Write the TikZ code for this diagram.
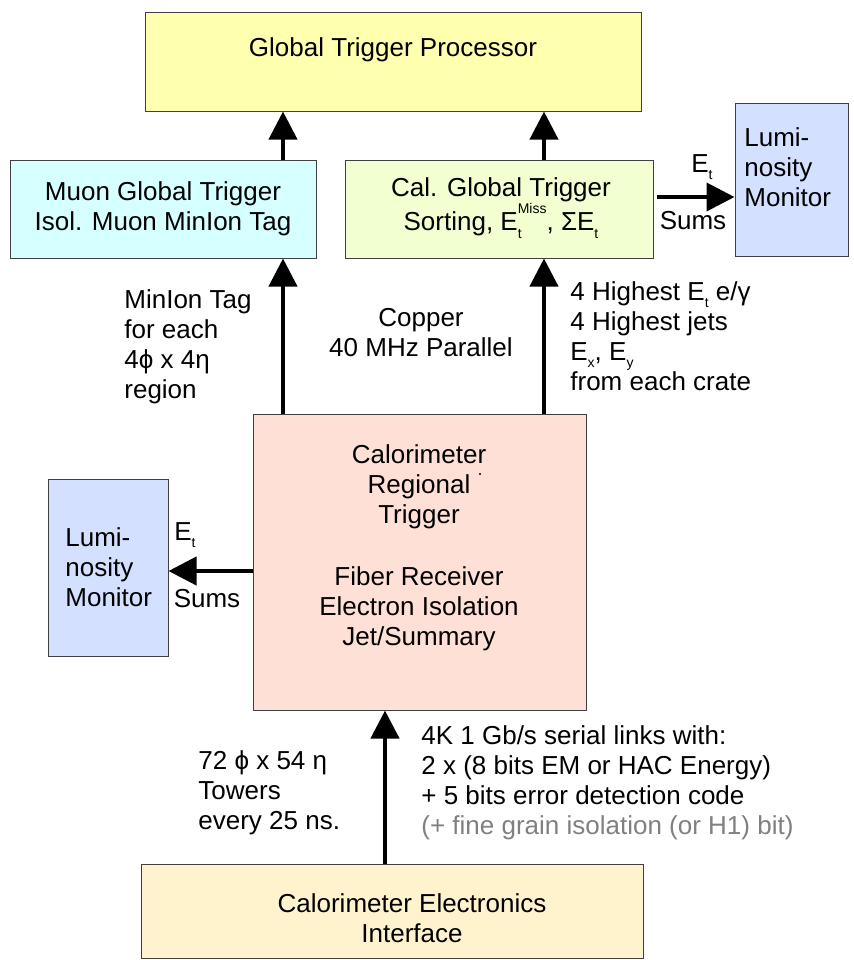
\documentclass[tikz,border=0pt]{standalone}
\usepackage{fontspec}
\setmainfont{Liberation Sans}
\usepackage{tikz}
\usetikzlibrary{arrows.meta,positioning,calc}
\definecolor{gtpyel}{RGB}{255,255,176}
\definecolor{muoncy}{RGB}{214,255,255}
\definecolor{calgrn}{RGB}{242,255,208}
\definecolor{lumblu}{RGB}{212,224,255}
\definecolor{crtpink}{RGB}{255,224,214}
\definecolor{ceicream}{RGB}{255,243,206}
\definecolor{edge}{RGB}{64,64,64}
\definecolor{note}{RGB}{128,128,128}
\newcommand{\lowsub}[1]{\raisebox{-0.55ex}{\fontsize{7}{8}\selectfont #1}}
\newcommand{\Et}{E\lowsub{t}}
\newcommand{\Emiss}{E\raisebox{-0.55ex}{\fontsize{7}{8}\selectfont\rlap{t}}\raisebox{1.25ex}{\fontsize{7}{8}\selectfont Miss}}

\begin{document}
\begin{tikzpicture}[x=0.5pt,y=-0.5pt,
      font=\fontsize{13}{15}\selectfont,
      blk/.style={draw=edge,line width=0.5pt,inner sep=0pt},
      gtpbox/.style={blk,fill=gtpyel,minimum width=248pt,minimum height=49.5pt},
      muonbox/.style={blk,fill=muoncy,minimum width=153pt,minimum height=49pt,align=center},
      calbox/.style={blk,fill=calgrn,minimum width=154pt,minimum height=49pt},
      lumbox/.style={blk,fill=lumblu},
      crtbox/.style={blk,fill=crtpink,minimum width=166.5pt,minimum height=148pt},
      ceibox/.style={blk,fill=ceicream,minimum width=251pt,minimum height=47pt},
      txt/.style={align=center,inner sep=0pt},
      ltxt/.style={align=left,anchor=west,inner sep=0pt},
      ar/.style={-{Triangle[length=14pt,width=14pt]},line width=2pt,color=black}]
      \useasboundingbox (0,0) rectangle (854,960);
      % boxes
      \node[gtpbox] (gtp) at (393,61.5) {};
      \node[txt] (gtptext) at (393,50) {Global Trigger Processor};
      \node[muonbox] (muon) at (163,209) {Muon Global Trigger\\Isol. Muon MinIon Tag};
      \node[calbox] (calg) at (499,209) {};
      \node[txt] (calgtext) at (501,208) {Cal. Global Trigger\\Sorting, \Emiss, Σ\Et};
      \node[lumbox,minimum width=56.5pt,minimum height=76.5pt] (lumr) at (791.5,179.5) {};
      \node[ltxt] (lumrtext) at (744,167) {Lumi-\\nosity\\Monitor};
      \node[crtbox] (crt) at (419.5,562) {};
      \node[txt] (crttext) at (419,548) {Calorimeter\\Regional\\Trigger\\[16pt]Fiber Receiver\\Electron Isolation\\Jet/Summary};
      \node[lumbox,minimum width=60pt,minimum height=88.5pt] (luml) at (108,567.5) {};
      \node[ltxt] (lumltext) at (65,567) {Lumi-\\nosity\\Monitor};
      \node[ceibox] (cei) at (392,911) {};
      \node[txt] (ceitext) at (412,918) {Calorimeter Electronics\\Interface};
      \fill (480,474) circle[radius=0.6pt];
      % arrow columns
      \coordinate (lx) at (283,0); \coordinate (rx) at (544,0); \coordinate (bx) at (385,0);
      \coordinate (ry) at (0,197); \coordinate (ly) at (0,571);
      \draw[ar] (muon.north -| lx) -- (gtp.south -| lx); \draw[ar] (calg.north -| rx) -- (gtp.south -| rx);
      \draw[ar] (crt.north -| lx) -- (muon.south -| lx); \draw[ar] (crt.north -| rx) -- (calg.south -| rx);
      \draw[ar,shorten <=1.5pt] (calg.east |- ry) -- (lumr.west |- ry);
      \draw[ar] (crt.west |- ly) -- (luml.east |- ly);
      \draw[ar] (cei.north -| bx) -- (crt.south -| bx);
      % labels
      \node[txt] (etr) at (702,167) {\Et};
      \node[txt] (sumr) at (693,221) {Sums};
      \node[txt] (etl) at (185,535) {\Et};
      \node[txt] (suml) at (207,599) {Sums};
      \node[ltxt] (miniontag) at (124,347) {MinIon Tag\\for each\\4ϕ x 4η\\region};
      \node[txt] (copper) at (421,333) {Copper\\40 MHz Parallel};
      \node[ltxt] (highest) at (570,336) {4 Highest \Et{} e/γ\\4 Highest jets\\E\lowsub{x}, E\lowsub{y}\\from each crate};
      \node[ltxt] (towers) at (198,793) {72 ϕ x 54 η\\Towers\\every 25 ns.};
      \node[ltxt] (links) at (421,783) {4K 1 Gb/s serial links with:\\2 x (8 bits EM or HAC Energy)\\+ 5 bits error detection code\\\textcolor{note}{(+ fine grain isolation (or H1) bit)}};
    \end{tikzpicture}
\end{document}
